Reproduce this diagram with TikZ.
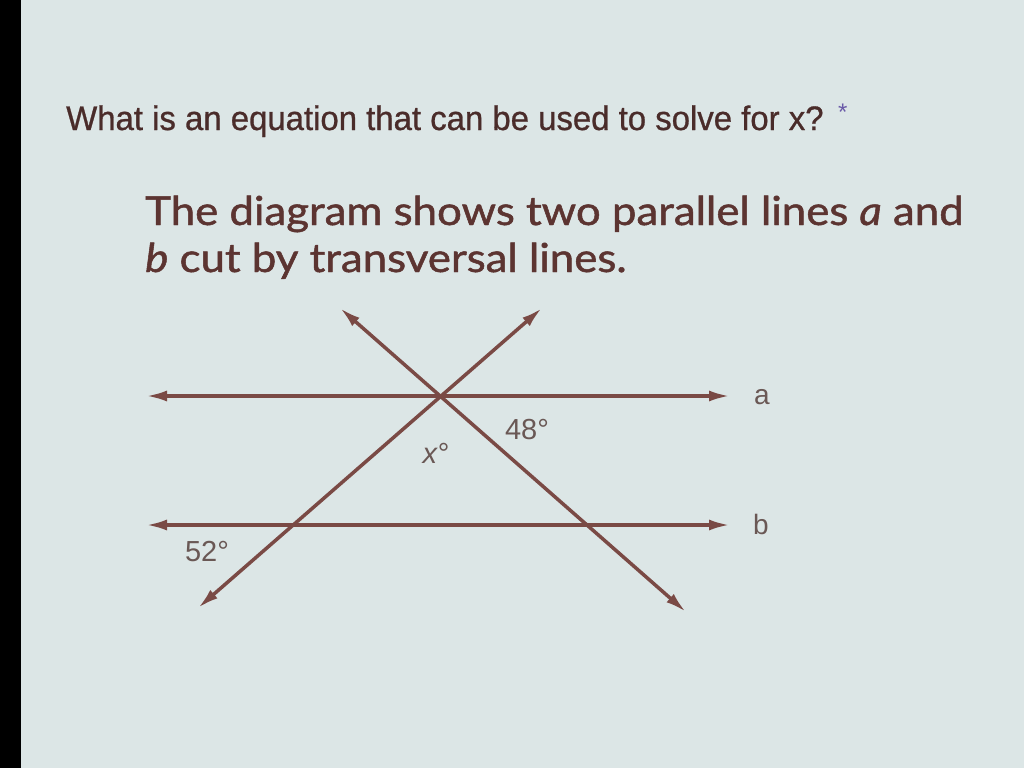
\documentclass[tikz,border=0pt]{standalone}
\usepackage{fontspec}
\setmainfont{Liberation Sans}
\newfontfamily\qfont[FakeBold=0.8]{Liberation Sans}
\newfontfamily\bodyfont[FakeBold=1.2]{Lato}
\usetikzlibrary{arrows.meta}
\definecolor{bg}{HTML}{DCE6E6}
\definecolor{qtext}{HTML}{4A2C2A}
\definecolor{btext}{HTML}{5C3431}
\definecolor{lcol}{HTML}{7A4A45}
\definecolor{lbl}{HTML}{6A5855}
\definecolor{star}{HTML}{6A5AA8}
\tikzset{
  geoline/.style={line width=3.5pt, draw=lcol, {Latex[length=21pt,width=11pt]}-{Latex[length=21pt,width=11pt]}},
  anglbl/.style={text=lbl, font=\fontsize{29}{29}\selectfont, inner sep=0pt},
  linelbl/.style={text=lbl, font=\fontsize{28}{28}\selectfont, inner sep=0pt},
}
\begin{document}
\begin{tikzpicture}[x=1pt,y=-1pt]
\useasboundingbox (0,0) rectangle (1024,768);
\fill[black] (0,0) rectangle (21,768);
\fill[bg] (21,0) rectangle (1024,768);
% question
\node[anchor=base west, inner sep=0pt, text=qtext] (q) at (66,130)
  {\scalebox{0.968}[1]{\qfont\fontsize{34}{34}\selectfont What is an equation that can be used to solve for x?}};
\node[anchor=base west, inner sep=0pt, text=star] (st) at (838,120) {\fontsize{24}{24}\selectfont *};
% body text
\node[anchor=base west, inner sep=0pt, text=btext] (l1) at (145,225)
  {\scalebox{1.095}[1]{\bodyfont\fontsize{40}{40}\selectfont The diagram shows two parallel lines \textit{a} and}};
\node[anchor=base west, inner sep=0pt, text=btext] (l2) at (145,272)
  {\scalebox{1.095}[1]{\bodyfont\fontsize{40}{40}\selectfont \textit{b} cut by transversal lines.}};
% geometry
\coordinate (aL) at (146,396);
\coordinate (aR) at (730,396);
\coordinate (bL) at (146,525);
\coordinate (bR) at (730,525);
\coordinate (t1a) at (340,308);
\coordinate (t1b) at (686,612);
\coordinate (t2a) at (542,308);
\coordinate (t2b) at (198,608);
\draw[geoline] (aL) -- (aR);
\draw[geoline] (bL) -- (bR);
\draw[geoline] (t1a) -- (t1b);
\draw[geoline] (t2a) -- (t2b);
% labels
\node[linelbl] (la) at (762,397) {a};
\node[linelbl] (lb) at (761,524) {b};
\node[anglbl] (a48) at (527,430) {48°};
\node[anglbl] (ax) at (436,453) {\textit{x}°};
\node[anglbl] (a52) at (207,552) {52°};
\end{tikzpicture}
\end{document}
